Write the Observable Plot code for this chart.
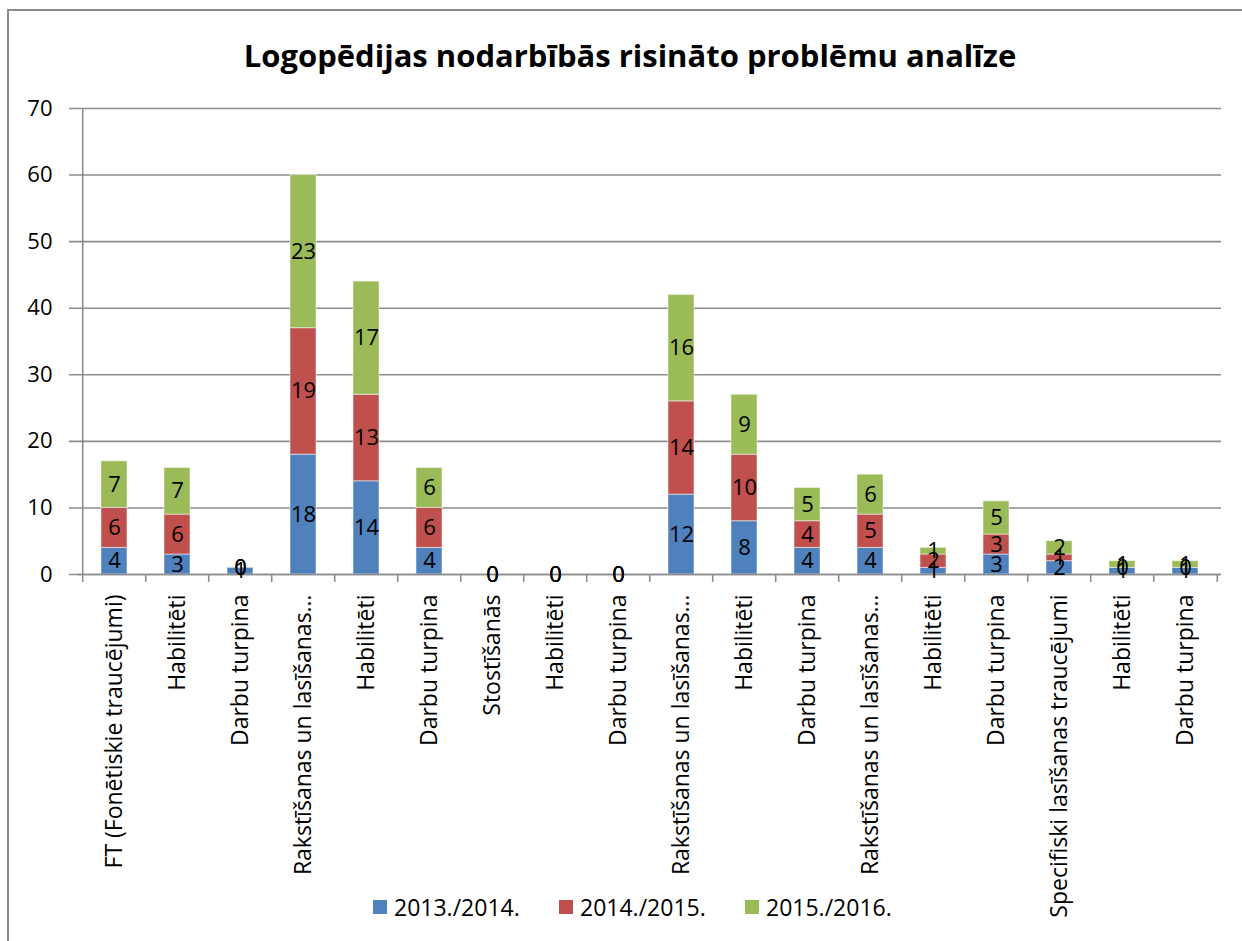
<!DOCTYPE html>
<html>
<head>
<meta charset="utf-8">
<script src="https://cdn.jsdelivr.net/npm/d3@7"></script>
<script src="https://cdn.jsdelivr.net/npm/@observablehq/plot@0.6"></script>
<style>
  html, body { margin: 0; padding: 0; background: #fff; overflow: hidden; }
  #wrap { position: relative; width: 1242px; height: 941px; font-family: "Open Sans", Lato, sans-serif; }
  #chart { position: absolute; left: 0; top: 0; }
  #title { position: absolute; left: 0; top: 35px; width: 1260px; text-align: center; font-weight: bold; font-size: 31px; color: #000; line-height: 40px; }
  #legend { position: absolute; left: 373px; top: 891px; display: flex; font-size: 23px; color: #000; line-height: 32px; }
  .item { display: flex; align-items: center; width: 186px; }
  .sw { width: 14px; height: 14px; margin-right: 7px; }
  #border { position: absolute; left: 7px; top: 9px; width: 1400px; height: 1100px; border-left: 2px solid #8a8a8a; border-top: 2px solid #8a8a8a; pointer-events: none; }
</style>
</head>
<body>
<div id="wrap">
  <div id="chart"></div>
  <div id="title">Logopēdijas nodarbībās risināto problēmu analīze</div>
  <div id="legend"></div>
  <div id="border"></div>
</div>
<script>
const categories = ["FT (Fonētiskie traucējumi)", "Habilitēti", "Darbu turpina", "Rakstīšanas un lasīšanas…", "Habilitēti", "Darbu turpina", "Stostīšanās", "Habilitēti", "Darbu turpina", "Rakstīšanas un lasīšanas…", "Habilitēti", "Darbu turpina", "Rakstīšanas un lasīšanas…", "Habilitēti", "Darbu turpina", "Specifiski lasīšanas traucējumi", "Habilitēti", "Darbu turpina"];
const seriesNames = ["2013./2014.", "2014./2015.", "2015./2016."];
const v2013 = [4, 3, 1, 18, 14, 4, 0, 0, 0, 12, 8, 4, 4, 1, 3, 2, 1, 1];
const v2014 = [6, 6, 0, 19, 13, 6, 0, 0, 0, 14, 10, 4, 5, 2, 3, 1, 0, 0];
const v2015 = [7, 7, 0, 23, 17, 6, 0, 0, 0, 16, 9, 5, 6, 1, 5, 2, 1, 1];
const seriesColors = ["#4F81BD", "#C0504D", "#9BBB59"];
const yTicks = [0, 10, 20, 30, 40, 50, 60, 70];

const seriesValues = [v2013, v2014, v2015];
const idx = d3.range(categories.length);
const data = [];
seriesNames.forEach((s, si) => {
  idx.forEach(i => data.push({i, series: s, value: seriesValues[si][i]}));
});

const W = 1242, H = 941, mL = 77, mR = 21, mT = 108, mB = 367;
const step = (W - mL - mR) / categories.length;
const gridColor = "#8c8c8c";
const font = "'Open Sans', Lato, sans-serif";

const chart = Plot.plot({
  width: W,
  height: H,
  marginLeft: mL,
  marginRight: mR,
  marginTop: mT,
  marginBottom: mB,
  style: {fontFamily: font, background: "transparent", color: "#000"},
  x: {type: "band", domain: idx, paddingInner: 0.59, paddingOuter: 0.295, axis: null},
  y: {domain: [0, 70], axis: null},
  color: {domain: seriesNames, range: seriesColors},
  marks: [
    Plot.gridY(yTicks, {stroke: gridColor, strokeOpacity: 1, strokeWidth: 1.6, insetLeft: -8}),
    Plot.text(yTicks, {y: d => d, frameAnchor: "left", textAnchor: "end", dx: -25, text: d => String(d), fontSize: 22, fill: "#000"}),
    Plot.barY(data, {x: "i", y: "value", fill: "series", stroke: "#fff", strokeOpacity: 0.5, strokeWidth: 1}),
    Plot.ruleY([0], {stroke: gridColor, strokeWidth: 1.6}),
    Plot.ruleX([idx[0]], {x: d => d, y1: 70, y2: 0, dx: -step / 2, insetBottom: -8, stroke: gridColor, strokeWidth: 1.6}),
    Plot.ruleX(idx.slice(1), {x: d => d, y1: 0, y2: 0, dx: -step / 2, insetBottom: -8, stroke: gridColor, strokeWidth: 1.6}),
    Plot.ruleX([idx[idx.length - 1]], {x: d => d, y1: 0, y2: 0, dx: step / 2, insetBottom: -8, stroke: gridColor, strokeWidth: 1.6}),
    Plot.text(data, Plot.stackY({x: "i", y: "value", z: "series", text: d => String(d.value), fontSize: 22, fill: "#000"})),
    Plot.text(idx, {x: d => d, y: 0, text: i => categories[i], rotate: -90, textAnchor: "end", dy: 20, fontSize: 23, fill: "#000"})
  ]
});
document.getElementById("chart").appendChild(chart);

const legend = document.getElementById("legend");
seriesNames.forEach((s, k) => {
  const item = document.createElement("div");
  item.className = "item";
  const sw = document.createElement("span");
  sw.className = "sw";
  sw.style.background = seriesColors[k];
  const t = document.createElement("span");
  t.textContent = s;
  item.appendChild(sw);
  item.appendChild(t);
  legend.appendChild(item);
});
</script>
</body>
</html>
